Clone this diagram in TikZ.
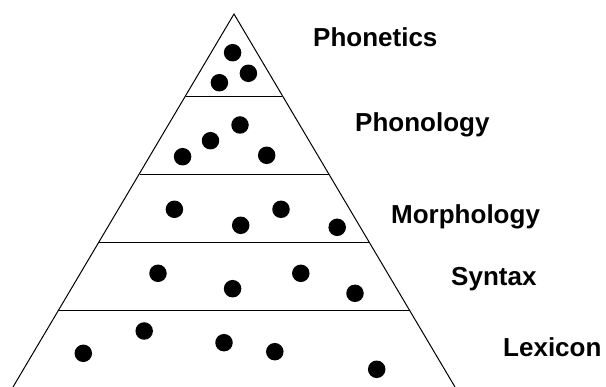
\documentclass[tikz,border=0pt]{standalone}
\usepackage{fontspec}
\setmainfont{Liberation Sans}
\begin{document}
\begin{tikzpicture}[x=1pt,y=-1pt,
  edge/.style={line width=1pt,black},
  dot/.style={circle,fill=black,inner sep=0pt,minimum width=17.5pt,minimum height=17.5pt,yscale=1},
  lbl/.style={anchor=base west,inner sep=0pt,font=\fontsize{26}{26}\selectfont\bfseries}]
\useasboundingbox (0,0) rectangle (606,387);
% pyramid outline
\coordinate (apex) at (234,14);
\coordinate (bl) at (13,387);
\coordinate (br) at (455,387);
\draw[edge] (bl) -- (apex) -- (br);
% horizontal dividers
\coordinate (l1) at (186,96.5);  \coordinate (r1) at (282,96.5);
\coordinate (l2) at (139.5,174.5); \coordinate (r2) at (328.5,174.5);
\coordinate (l3) at (99,243);   \coordinate (r3) at (369,243);
\coordinate (l4) at (58.5,311);  \coordinate (r4) at (409.5,311);
\draw[edge] (l1) -- (r1);
\draw[edge] (l2) -- (r2);
\draw[edge] (l3) -- (r3);
\draw[edge] (l4) -- (r4);
% dots
\node[dot] (d1) at (232.6,52.7) {};
\node[dot] (d2) at (248.4,73.3) {};
\node[dot] (d3) at (219.4,82.7) {};
\node[dot] (d4) at (240,125) {};
\node[dot] (d5) at (210.5,140.7) {};
\node[dot] (d6) at (182.6,156.7) {};
\node[dot] (d7) at (266.7,155.3) {};
\node[dot] (d8) at (174.4,209.3) {};
\node[dot] (d9) at (281,209.3) {};
\node[dot] (d10) at (240.7,225.3) {};
\node[dot] (d11) at (337.2,227.3) {};
\node[dot] (d12) at (158,273.3) {};
\node[dot] (d13) at (300.8,273.3) {};
\node[dot] (d14) at (232.6,288.7) {};
\node[dot] (d15) at (355,293.3) {};
\node[dot] (d16) at (144.2,331) {};
\node[dot] (d17) at (224,342.7) {};
\node[dot] (d18) at (83.3,353.3) {};
\node[dot] (d19) at (274.8,351.7) {};
\node[dot] (d20) at (376.7,369.3) {};
% labels
\node[lbl] (t1) at (313,46.5) {Phonetics};
\node[lbl] (t2) at (355,131.7) {Phonology};
\node[lbl] (t3) at (391,224) {Morphology};
\node[lbl] (t4) at (451,286) {Syntax};
\node[lbl] (t5) at (503,356.5) {Lexicon};
\end{tikzpicture}
\end{document}
